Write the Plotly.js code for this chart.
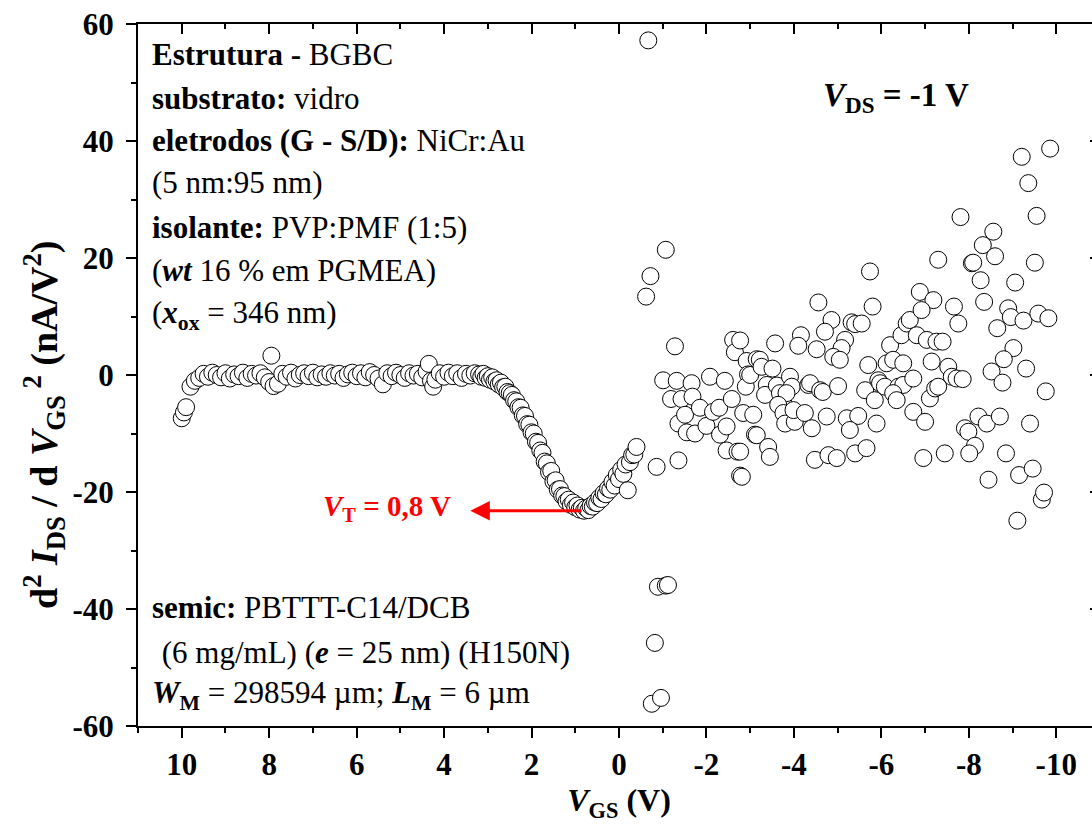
<!DOCTYPE html>
<html>
<head>
<meta charset="utf-8">
<script src="https://cdn.plot.ly/plotly-3.0.1.min.js"></script>
<style>
html,body{margin:0;padding:0;background:#fff;overflow:hidden;}
#chart{width:1100px;height:828px;}
</style>
</head>
<body>
<div id="chart"></div>
<script>
// Flat region (VGS from 10 V to 3.3 V)
const vgsFlat = [10.0,9.95,9.9,9.8,9.7,9.6,9.5,9.4,9.3,9.2,9.1,9.0,8.9,8.8,8.7,8.6,8.5,8.4,8.3,8.2,8.1,8.0,7.95,7.9,7.8,7.7,7.6,7.5,7.4,7.3,7.2,7.1,7.0,6.9,6.8,6.7,6.6,6.5,6.4,6.3,6.2,6.1,6.0,5.9,5.8,5.7,5.6,5.5,5.4,5.3,5.2,5.1,5.0,4.9,4.8,4.7,4.6,4.5,4.4,4.35,4.3,4.25,4.2,4.1,4.0,3.9,3.8,3.7,3.6,3.5,3.4,3.3];
const d2Flat = [-7.4,-6.4,-5.5,-2.0,-1.0,-0.5,0.2,-0.3,0.4,0.0,-0.4,0.3,-0.6,0.1,-0.2,0.4,-0.5,0.2,-0.1,0.3,-0.4,-1.2,3.3,-1.9,-1.5,0.2,-0.3,0.4,-0.6,0.0,0.3,-0.2,0.4,-0.4,0.1,-0.3,0.3,-0.1,0.2,-0.5,0.1,0.4,-0.2,0.3,-0.4,0.5,0.0,-0.6,-1.6,0.3,-0.2,0.4,0.0,-0.5,0.3,-0.1,0.2,-0.4,0.6,1.9,-1.0,-2.0,-0.8,0.3,-0.3,0.4,-0.2,0.3,-0.5,0.2,-0.1,0.3];

// Transition region (3.2 V to -0.4 V)
const vgsTrans = [3.2,3.15,3.1,3.05,3.0,2.95,2.9,2.85,2.8,2.75,2.7,2.65,2.6,2.55,2.5,2.45,2.4,2.35,2.3,2.25,2.2,2.15,2.1,2.05,2.0,1.95,1.9,1.85,1.8,1.75,1.7,1.65,1.6,1.55,1.5,1.45,1.4,1.35,1.3,1.25,1.2,1.15,1.1,1.05,1.0,0.95,0.9,0.85,0.8,0.75,0.7,0.65,0.6,0.55,0.5,0.45,0.4,0.35,0.3,0.25,0.2,0.15,0.1,0.05,0.0,-0.05,-0.1,-0.15,-0.2,-0.25,-0.3,-0.35,-0.4];
const d2Trans = [0.1,-0.3,0.2,-0.5,-0.2,-0.8,-0.4,-1.1,-0.9,-1.6,-1.3,-2.1,-2.0,-2.9,-3.1,-3.4,-4.3,-4.5,-5.5,-5.6,-6.9,-7.0,-8.4,-8.5,-9.8,-10.0,-11.4,-11.6,-12.9,-13.3,-14.8,-15.1,-16.6,-16.4,-18.2,-18.0,-19.6,-19.5,-20.6,-20.7,-21.6,-21.3,-22.2,-21.8,-22.6,-22.3,-23.0,-22.7,-23.2,-22.8,-23.1,-22.4,-22.5,-21.8,-21.9,-21.0,-21.2,-20.2,-20.4,-19.4,-19.6,-18.3,-18.9,-17.1,-17.8,-16.2,-16.9,-15.3,-19.7,-14.9,-13.7,-13.6,-12.3];

// Noisy region (below -0.5 V)
const vgsNoisy = [-0.62,-0.67,-0.72,-0.75,-0.82,-0.86,-0.89,-0.96,-1.01,-1.07,-1.07,-1.12,-1.19,-1.28,-1.32,-1.36,-1.36,-1.43,-1.51,-1.55,-1.66,-1.68,-1.74,-1.85,-2.0,-2.08,-2.15,-2.29,-2.31,-2.42,-2.46,-2.46,-2.58,-2.61,-2.65,-2.71,-2.77,-2.84,-2.92,-2.95,-3.11,-3.15,
-2.77,-2.9,-3.0,-3.22,-3.26,-3.51,-3.38,-3.34,-3.61,-3.68,-3.76,-3.91,-3.95,-3.83,-4.33,-4.37,-4.60,-4.66,-5.01,-3.64,-3.76,-3.80,-4.02,-3.99,-4.25,-4.41,-4.75,-5.21,-5.47,-5.28,-5.89,-3.07,-3.15,-3.41,-3.45,-2.77,-2.81,-4.48,-4.79,-4.98,-5.40,-5.66,-5.74,-4.56,-5.80,-4.86,-4.71,-5.32,-5.40,-5.55,-5.17,-5.09,-4.90,-5.05,-4.16,-4.10,-4.52,-3.57,-5.70,-5.63,-5.85,-5.93,-5.97,-6.08,-6.39,-6.50,-6.73,-6.27,-6.35,-6.20,-6.46,-6.58,-6.65,-6.12,-6.27,-6.50,-6.88,-7.19,-6.92,-6.81,-7.04,-7.15,-7.26,-7.30,-6.73,-7.0,-6.96,-7.11,-7.23,
-9.86,-9.21,-9.36,-9.55,-7.81,-8.56,-8.32,-8.60,-8.07,-8.10,-9.51,-8.27,-9.06,-7.66,-7.76,-8.35,-8.90,-8.96,-9.25,-9.59,-9.82,-8.65,-7.40,-9.02,-8.80,-9.31,-8.52,-8.77,-9.76,-7.53,-7.61,-7.72,-7.86,-7.30,-7.91,-8.22,-8.41,-8.71,-7.99,-8.14,-8.01,-9.40,-8.85,-7.45,-8.45,-9.15,-9.46,-9.67,-9.72,-9.11];
const d2Noisy = [13.4,57.2,16.9,-56.2,-45.8,-15.7,-36.2,-55.2,-0.9,21.4,-36.0,-35.9,-4.1,4.9,-1.0,-8.3,-14.6,-4.1,-6.8,-9.8,-1.4,-3.7,-10.0,-5.6,-8.7,-0.3,-6.3,-5.6,-10.2,-1.0,-8.8,-12.9,-4.1,6.0,3.9,-13.1,-17.2,-6.5,2.4,0.1,-10.2,2.7,
5.9,-2.0,0.0,2.6,1.4,1.1,-1.7,-3.4,-1.8,-3.1,-4.8,-0.3,-2.0,-3.1,-1.7,-1.4,-2.6,-2.9,-1.9,-5.1,-6.5,-8.3,-8.0,-6.0,-6.5,-9.1,-7.1,-7.4,-7.0,-9.4,-8.3,-6.8,-10.3,-12.3,-14.0,-13.1,-17.4,-14.5,-13.7,-14.2,-13.4,-12.5,17.7,12.4,11.7,9.4,7.4,9.0,8.7,8.8,6.0,4.6,3.1,2.6,6.8,5.0,4.4,5.4,1.7,-2.6,-4.3,-0.9,-1.4,-2.0,-2.0,-1.7,-0.6,-3.1,-4.3,5.1,6.8,8.8,9.4,2.0,2.6,2.0,14.2,12.8,11.1,6.8,6.0,2.3,5.7,19.7,-6.3,-8.0,-14.2,-4.0,-2.3,
38.7,37.3,32.8,27.2,27.0,24.5,22.2,20.3,19.1,19.2,19.2,16.2,15.8,11.7,8.8,12.5,11.4,9.9,9.3,10.5,9.7,8.0,5.7,4.6,2.7,1.1,0.6,-1.3,-2.8,1.4,-0.3,-0.6,-0.7,-2.0,-9.1,-7.1,-8.3,-7.1,-9.7,-12.1,-13.4,-8.3,-13.4,-13.4,-17.9,-17.1,-16.0,-21.3,-20.1,-24.9];

const xTickVals = [10,8,6,4,2,0,-2,-4,-6,-8,-10];
const xTickText = ['10','8','6','4','2','0','-2','-4','-6','-8','-10'];
const yTickVals = [-60,-40,-20,0,20,40,60];
const yTickText = ['-60','-40','-20','0','20','40','60'];

const vgs = vgsFlat.concat(vgsTrans, vgsNoisy);
const d2 = d2Flat.concat(d2Trans, d2Noisy);

const FONT = 'Liberation Serif, Times New Roman, serif';

const trace = {
  x: vgs, y: d2, type: 'scatter', mode: 'markers',
  marker: {symbol: 'circle', size: 17, color: '#ffffff', line: {color: '#000000', width: 1}},
  hoverinfo: 'skip', showlegend: false
};

const tf = {family: FONT, size: 31, color: '#000'};
function lineAnn(txt, px, py){
  return {xref:'paper', yref:'paper', x:(px-138)/962, y:(726-py)/702, xanchor:'left', yanchor:'middle',
          text: txt, showarrow:false, font: tf};
}

const annotations = [
  lineAnn('<b>Estrutura -</b> BGBC', 150, 55),
  lineAnn('<b>substrato:</b> vidro', 150, 98),
  lineAnn('<b>eletrodos (G - S/D):</b> NiCr:Au', 150, 140),
  lineAnn('(5 nm:95 nm)', 150, 183),
  lineAnn('<b>isolante:</b> PVP:PMF (1:5)', 150, 227),
  lineAnn('(<b><i>wt</i></b> 16 % em PGMEA)', 150, 270),
  lineAnn('(<b><i>x</i></b><sub><b>ox</b></sub> = 346 nm)', 150, 315),
  lineAnn('<b>semic:</b> PBTTT-C14/DCB', 150, 607),
  lineAnn(' (6 mg/mL) (<b><i>e</i></b> = 25 nm) (H150N)', 152, 652),
  lineAnn('<b><i>W</i></b><sub><b>M</b></sub> = 298594 µm; <b><i>L</i></b><sub><b>M</b></sub> = 6 µm', 150, 695),
  {xref:'paper', yref:'paper', x:(896-138)/962, y:(726-97)/702, xanchor:'center', yanchor:'middle',
   text:'<b><i>V</i><sub>DS</sub> = -1 V</b>', showarrow:false, font:{family:FONT, size:33, color:'#000'}},
  {xref:'x', yref:'y', x:3.8, y:-22.8, xanchor:'right', yanchor:'middle',
   text:'<b><i>V</i><sub>T</sub> = 0,8 V</b>', showarrow:false, font:{family:FONT, size:29, color:'#ff0000'}},
  {xref:'x', yref:'y', x:3.4, y:-23.2, axref:'x', ayref:'y', ax:0.82, ay:-23.2,
   text:'', showarrow:true, arrowhead:2, arrowsize:1.3, arrowwidth:3, arrowcolor:'#ff0000'},
  {xref:'paper', yref:'paper', x:(44-138)/962, y:(726-425)/702, xanchor:'center', yanchor:'middle', textangle:-90,
   text:'<b>d<sup>2</sup> <i>I</i><sub>DS</sub> / d <i>V</i><sub>GS</sub><sup> 2</sup> (nA/V<sup>2</sup>)</b>',
   showarrow:false, font:{family:FONT, size:38, color:'#000'}}
];

const axBase = {showline:true, linecolor:'#000', linewidth:2, showgrid:false, zeroline:false};

const layout = {
  width: 1100, height: 828,
  margin: {l:138, r:0, t:24, b:102},
  paper_bgcolor:'#fff', plot_bgcolor:'#fff',
  font: {family: FONT, color:'#000'},
  xaxis: Object.assign({}, axBase, {
    range:[11,-11], tickmode:'array', tickvals:xTickVals, ticktext:xTickText,
    ticks:'outside', ticklen:10, tickwidth:2, tickcolor:'#000',
    minor:{dtick:1, tick0:0, ticks:'outside', ticklen:5, tickwidth:2, tickcolor:'#000'},
    tickfont:{family:FONT, size:31, color:'#000', weight:'bold'},
    title:{text:'<b><i>V</i><sub>GS</sub> (V)</b>', font:{family:FONT, size:32, color:'#000'}, standoff:6}
  }),
  yaxis: Object.assign({}, axBase, {
    range:[-60,60], tickmode:'array', tickvals:yTickVals, ticktext:yTickText,
    ticks:'outside', ticklen:10, tickwidth:2, tickcolor:'#000', ticklabelstandoff:6,
    minor:{dtick:10, tick0:0, ticks:'outside', ticklen:5, tickwidth:2, tickcolor:'#000'},
    tickfont:{family:FONT, size:31, color:'#000', weight:'bold'}
  }),
  xaxis2: Object.assign({}, axBase, {
    overlaying:'x', side:'top', range:[11,-11], tickmode:'array', tickvals:xTickVals,
    showticklabels:false, ticks:'inside', ticklen:10, tickwidth:2, tickcolor:'#000',
    minor:{dtick:1, tick0:0, ticks:'inside', ticklen:5, tickwidth:2, tickcolor:'#000'}
  }),
  yaxis2: Object.assign({}, axBase, {
    overlaying:'y', side:'right', range:[-60,60], tickmode:'array', tickvals:yTickVals,
    showticklabels:false, ticks:'inside', ticklen:10, tickwidth:2, tickcolor:'#000',
    minor:{dtick:10, tick0:0, ticks:'inside', ticklen:5, tickwidth:2, tickcolor:'#000'}
  }),
  annotations: annotations
};

const dummy = {x:[0], y:[0], xaxis:'x2', yaxis:'y2', type:'scatter', mode:'markers',
  marker:{opacity:0}, hoverinfo:'skip', showlegend:false};

Plotly.newPlot('chart', [dummy, trace], layout, {displayModeBar:false, staticPlot:true});
</script>
</body>
</html>
